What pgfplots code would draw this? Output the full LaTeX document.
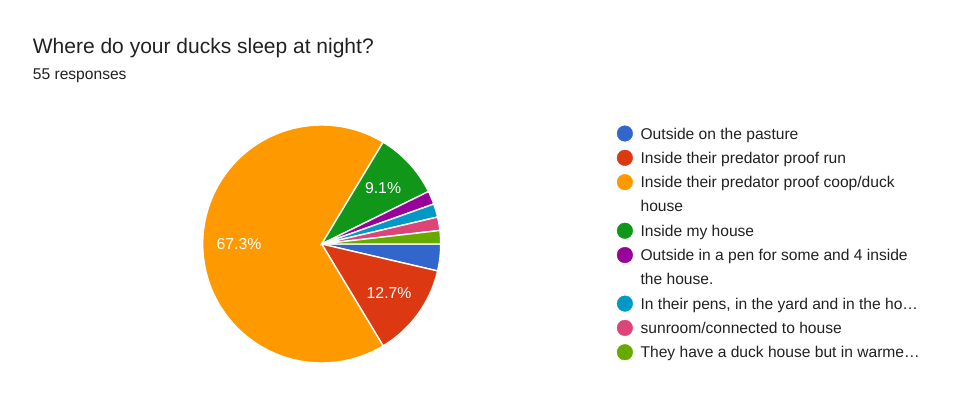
\documentclass[border=0pt]{standalone}
\usepackage{pgfplots}
\pgfplotsset{compat=1.18}
\usepgfplotslibrary{polar}
\usepackage{fontspec}
\setmainfont{Liberation Sans}
\definecolor{cBlue}{HTML}{3366CC}
\definecolor{cRed}{HTML}{DC3912}
\definecolor{cOrange}{HTML}{FF9900}
\definecolor{cGreen}{HTML}{109618}
\definecolor{cPurple}{HTML}{990099}
\definecolor{cCyan}{HTML}{0099C6}
\definecolor{cPink}{HTML}{DD4477}
\definecolor{cLime}{HTML}{66AA00}
\definecolor{txt}{HTML}{212121}
% counts out of 55 responses:
% pasture 2, run 7, coop 37, my house 5, pen 1, pens 1, sunroom 1, warmer 1
% slice boundaries (degrees, clockwise from 3 o'clock) = -cumulative*360/55
\begin{document}
\begin{tikzpicture}
\useasboundingbox (0,0) rectangle (975bp,410bp);
\begin{axis}[
  at={(0,0)}, anchor=south west,
  scale only axis, width=975bp, height=410bp,
  xmin=0, xmax=975, ymin=0, ymax=410,
  hide axis, clip=false,
  legend image code/.code={\fill[#1] (0bp,0bp) circle (7.8bp);},
  legend cell align=left,
  legend style={
    at={(0.6325,0.6980)}, anchor=north west,
    draw=none, fill=none, inner sep=0pt,
    row sep=5.3bp, column sep=7.7bp,
    font=\fontsize{15.6bp}{18bp}\selectfont,
    text=txt,
    nodes={inner sep=0pt, text height=15bp, text depth=4bp},
  },
]
\addlegendimage{cBlue}\addlegendentry{Outside on the pasture}
\addlegendimage{cRed}\addlegendentry{Inside their predator proof run}
\addlegendimage{cOrange}\addlegendentry{Inside their predator proof coop/duck}
\addlegendimage{empty legend}\addlegendentry{house}
\addlegendimage{cGreen}\addlegendentry{Inside my house}
\addlegendimage{cPurple}\addlegendentry{Outside in a pen for some and 4 inside}
\addlegendimage{empty legend}\addlegendentry{the house.}
\addlegendimage{cCyan}\addlegendentry{In their pens, in the yard and in the ho…}
\addlegendimage{cPink}\addlegendentry{sunroom/connected to house}
\addlegendimage{cLime}\addlegendentry{They have a duck house but in warme…}
\node[anchor=base west, inner sep=0pt, text=txt, font=\fontsize{21bp}{25bp}\selectfont]
  at (axis cs:32.7,356.7) {Where do your ducks sleep at night?};
\node[anchor=base west, inner sep=0pt, text=txt, font=\fontsize{15.6bp}{18bp}\selectfont]
  at (axis cs:32.7,330) {55 responses};
\end{axis}
\begin{polaraxis}[
  at={(321.7bp,166bp)}, anchor=center,
  scale only axis, width=238bp, height=238bp,
  ymin=0, ymax=1, hide axis, clip=false,
]
\addplot[fill=cBlue, draw=white, line width=1.4bp, domain=-13.0909:0, samples=20] {1} -- (axis cs:0,0) -- cycle;
\addplot[fill=cRed, draw=white, line width=1.4bp, domain=-58.9091:-13.0909, samples=40] {1} -- (axis cs:0,0) -- cycle;
\addplot[fill=cOrange, draw=white, line width=1.4bp, domain=-301.0909:-58.9091, samples=150] {1} -- (axis cs:0,0) -- cycle;
\addplot[fill=cGreen, draw=white, line width=1.4bp, domain=-333.8182:-301.0909, samples=30] {1} -- (axis cs:0,0) -- cycle;
\addplot[fill=cPurple, draw=white, line width=1.4bp, domain=-340.3636:-333.8182, samples=10] {1} -- (axis cs:0,0) -- cycle;
\addplot[fill=cCyan, draw=white, line width=1.4bp, domain=-346.9091:-340.3636, samples=10] {1} -- (axis cs:0,0) -- cycle;
\addplot[fill=cPink, draw=white, line width=1.4bp, domain=-353.4545:-346.9091, samples=10] {1} -- (axis cs:0,0) -- cycle;
\addplot[fill=cLime, draw=white, line width=1.4bp, domain=-360:-353.4545, samples=10] {1} -- (axis cs:0,0) -- cycle;
\node[text=white, font=\fontsize{15.8bp}{18bp}\selectfont] at (axis cs:180,0.695) {67.3\%};
\node[text=white, font=\fontsize{15.8bp}{18bp}\selectfont] at (axis cs:-36,0.70) {12.7\%};
\node[text=white, font=\fontsize{15.8bp}{18bp}\selectfont] at (axis cs:42.55,0.70) {9.1\%};
\end{polaraxis}
\end{tikzpicture}
\end{document}
